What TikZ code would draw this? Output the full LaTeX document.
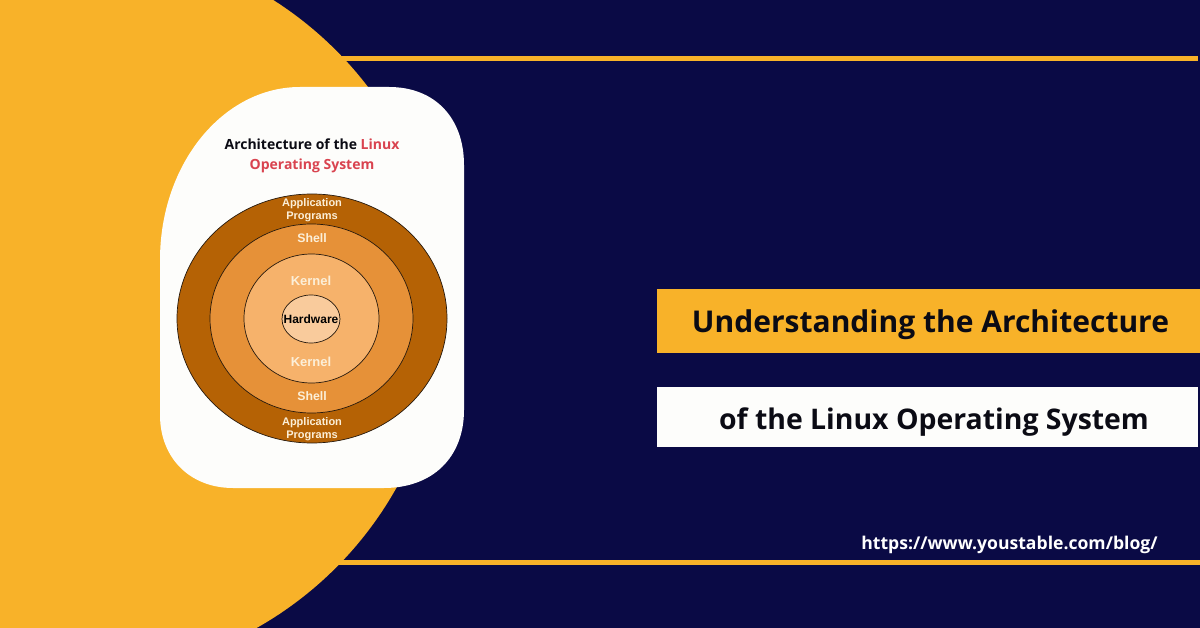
\documentclass[tikz,border=0pt]{standalone}
\usepackage{fontspec}
\setmainfont{Open Sans}
\newfontfamily\labelfont{Liberation Sans}
\usetikzlibrary{positioning,shapes.geometric}

\begin{document}
\begin{tikzpicture}[
            x=1pt,y=-1pt,
            node distance=3pt,
            ring/.style={ellipse,draw=black!80!brown,line width=.7pt,inner sep=0pt},
            ringtext/.style={font=\labelfont\bfseries\fontsize{11}{13}\selectfont,text=ringwhite,align=center,inner sep=0pt},
            bar/.style={anchor=north west,minimum width=543pt,inner sep=0pt},
            bartext/.style={font=\bfseries\fontsize{30}{32}\selectfont,text=ink,inner sep=0pt,anchor=base}
        ]
            \definecolor{navy}{HTML}{0A0A45}
            \definecolor{sun}{HTML}{F8B229}
            \definecolor{paper}{HTML}{FDFDFB}
            \definecolor{ink}{HTML}{0B0B14}
            \definecolor{ringwhite}{HTML}{FCEFD8}
            \definecolor{linuxred}{HTML}{D9434F}
            \definecolor{appcol}{HTML}{B56205}
            \definecolor{shellcol}{HTML}{E69138}
            \definecolor{kernelcol}{HTML}{F6B26B}
            \definecolor{hwcol}{HTML}{F9CB9C}

            \path [use as bounding box,fill=navy] (0,0) rectangle (1200,628);

            % rules behind the disc
            \fill [sun] (300,56) rectangle (1198,61);
            \fill [sun] (300,560) rectangle (1200,565);
            \fill [sun] (77,309) circle (366);

            % panel
            \fill [paper] (300,87) -- (389,87)
                .. controls (435,87) and (464,118) .. (464,165)
                -- (464,410)
                .. controls (464,458) and (432,488) .. (384,488)
                -- (233,488)
                .. controls (190,488) and (160,458) .. (160,415)
                -- (160,260)
                .. controls (160,164) and (223,87) .. (300,87) -- cycle;

            \node (title) [align=center,font=\bfseries\fontsize{14}{20}\selectfont,text=ink,inner sep=0pt]
                at (312,155.5) {Architecture of the \textcolor{linuxred}{Linux}\\\textcolor{linuxred}{Operating System}};

            % rings
            \node (app)    [ring,fill=appcol,minimum width=270pt,minimum height=249pt]    at (312,318.5) {};
            \node (shell)  [ring,fill=shellcol,minimum width=203pt,minimum height=189pt]  at (311.5,318.5) {};
            \node (kernel) [ring,fill=kernelcol,minimum width=135pt,minimum height=129pt] at (311.5,318.5) {};
            \node (hw)     [ring,fill=hwcol,minimum width=58pt,minimum height=48pt]       at (311,319) {};

            \node (hwtext) [ringtext,text=black,font=\labelfont\bfseries\fontsize{12}{13}\selectfont] at (hw) {Hardware};
            \node (kerneltop) [ringtext,font=\labelfont\bfseries\fontsize{13}{13}\selectfont,above=9pt of hw.north] {Kernel};
            \node (kernelbot) [ringtext,font=\labelfont\bfseries\fontsize{13}{13}\selectfont,below=14pt of hw.south] {Kernel};
            \node (shelltop)  [ringtext,font=\labelfont\bfseries\fontsize{12.3}{13}\selectfont] at (312,238) {Shell};
            \node (shellbot)  [ringtext,font=\labelfont\bfseries\fontsize{12.3}{13}\selectfont] at (312,396) {Shell};
            \node (apptop) [ringtext] at (312,210) {Application\\Programs};
            \node (appbot) [ringtext] at (312,429) {Application\\Programs};

            % title bars
            \node (barone) [bar,fill=sun,minimum height=64pt]   at (657,289) {};
            \node (bartwo) [bar,fill=paper,minimum height=60pt,minimum width=541pt] at (657,387) {};
            \node (understanding) [bartext] at (930.5,333) {Understanding the Architecture};
            \node (linuxos)       [bartext,font=\bfseries\fontsize{28.4}{32}\selectfont] at (934,429) {of the Linux Operating System};
            \node (url) [font=\bfseries\fontsize{17.6}{20}\selectfont,text=white,inner sep=0pt,anchor=base] at (1009.5,549) {https://www.youstable.com/blog/};
        \end{tikzpicture}
\end{document}
